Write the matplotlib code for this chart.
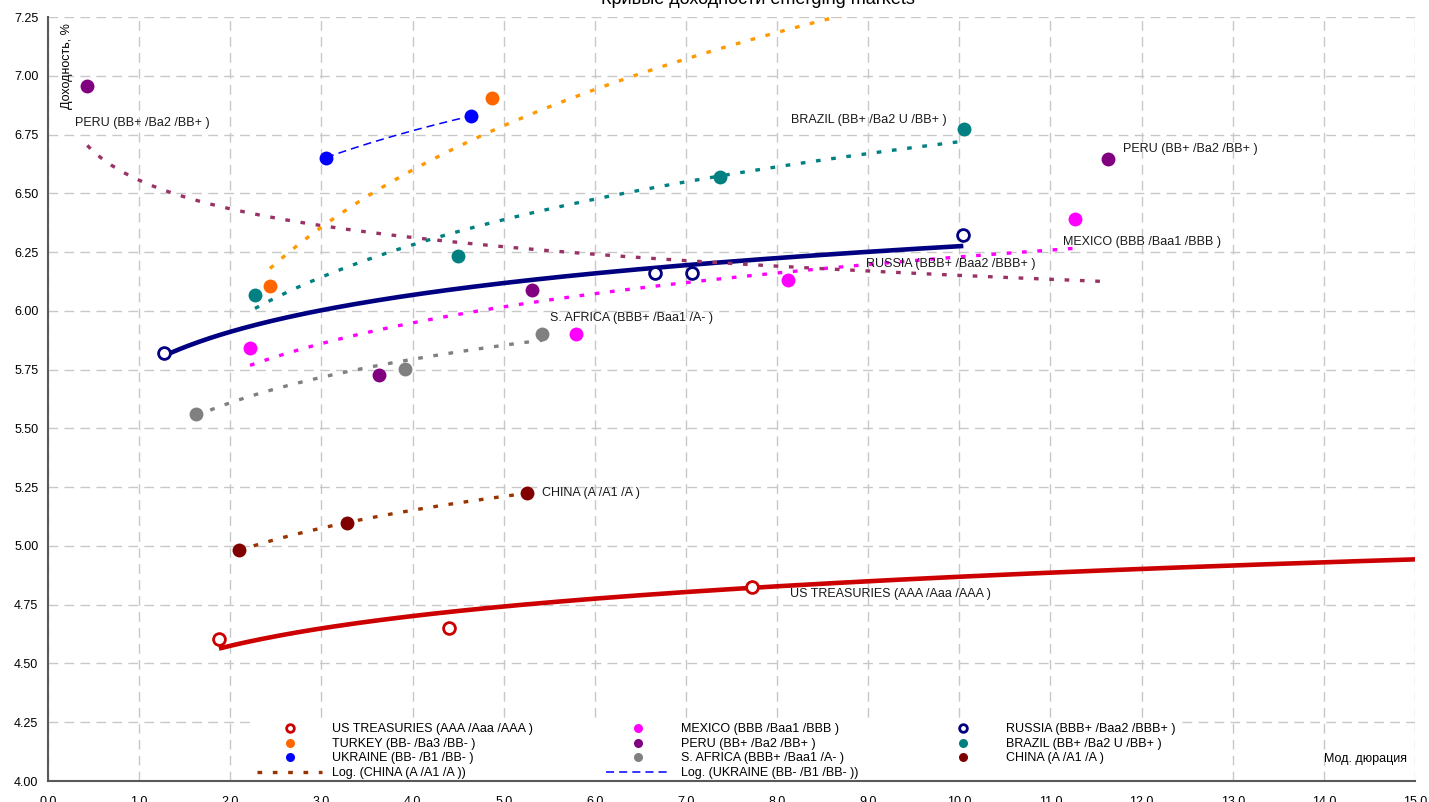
import numpy as np
import matplotlib.pyplot as plt

plt.rcParams['font.family'] = ['Liberation Sans', 'DejaVu Sans']
plt.rcParams['font.size'] = 9

# modified duration (x) / yield, % (y) for each curve
us_x = [1.876, 4.40, 7.725, 17.0]
us_y = [4.604, 4.651, 4.825, 4.99]
turkey_x = [2.436, 4.875, 10.3]
turkey_y = [6.107, 6.907, 7.33]
ukraine_x = [3.051, 4.642]
ukraine_y = [6.652, 6.829]
mexico_x = [2.217, 5.794, 8.117, 11.27]
mexico_y = [5.841, 5.901, 6.131, 6.389]
peru_x = [0.431, 3.632, 5.315, 11.635]
peru_y = [6.958, 5.727, 6.087, 6.647]
safrica_x = [1.624, 3.914, 5.424]
safrica_y = [5.563, 5.753, 5.901]
russia_x = [1.273, 6.661, 7.067, 10.044]
russia_y = [5.819, 6.161, 6.161, 6.323]
brazil_x = [2.271, 4.496, 7.374, 10.052]
brazil_y = [6.067, 6.233, 6.571, 6.772]
china_x = [2.096, 3.285, 5.26]
china_y = [4.983, 5.096, 5.226]

us_name = "US TREASURIES (AAA /Aaa /AAA )"
turkey_name = "TURKEY (BB- /Ba3 /BB- )"
ukraine_name = "UKRAINE (BB- /B1 /BB- )"
mexico_name = "MEXICO (BBB /Baa1 /BBB )"
peru_name = "PERU (BB+ /Ba2 /BB+ )"
safrica_name = "S. AFRICA (BBB+ /Baa1 /A- )"
russia_name = "RUSSIA (BBB+ /Baa2 /BBB+ )"
brazil_name = "BRAZIL (BB+ /Ba2 U /BB+ )"
china_name = "CHINA (A /A1 /A )"

x_ticks = list(range(0, 16))
y_ticks = [4.00, 4.25, 4.50, 4.75, 5.00, 5.25, 5.50, 5.75, 6.00, 6.25, 6.50, 6.75, 7.00, 7.25]


def log_trend(x, y):
    # excel-style logarithmic trendline y = a + b*ln(x)
    x = np.asarray(x)
    b, a = np.polyfit(np.log(x), np.asarray(y), 1)
    xs = np.linspace(x.min(), x.max(), 300)
    return xs, a + b * np.log(xs)


fig = plt.figure(figsize=(14.29, 8.02), dpi=100)
ax = fig.add_axes([48 / 1429, 21 / 802, 1367 / 1429, 764 / 802])

dots = (0, (1.4, 3.2))

# trendlines
ax.plot(*log_trend(us_x, us_y), color='#CC0000', lw=3.3, zorder=2, solid_capstyle='butt')
ax.plot(*log_trend(russia_x, russia_y), color='#000080', lw=3.3, zorder=2, solid_capstyle='butt')
ax.plot(*log_trend(mexico_x, mexico_y), color='#FF00FF', lw=2.4, ls=dots, zorder=2)
ax.plot(*log_trend(peru_x, peru_y), color='#993366', lw=2.4, ls=dots, zorder=2)
ax.plot(*log_trend(brazil_x, brazil_y), color='#008080', lw=2.4, ls=dots, zorder=2)
ax.plot(*log_trend(turkey_x, turkey_y), color='#FF9900', lw=2.4, ls=dots, zorder=2)
ax.plot(*log_trend(safrica_x, safrica_y), color='#808080', lw=2.4, ls=dots, zorder=2)
ch_trend, = ax.plot(*log_trend(china_x, china_y), color='#993300', lw=2.4, ls=dots, zorder=2,
                    label='Log. (' + china_name + ')')
ua_trend, = ax.plot(*log_trend(ukraine_x, ukraine_y), color='#0000FF', lw=1.1, ls=(0, (5.3, 3.3)),
                    zorder=2, label='Log. (' + ukraine_name + ')')

# points
us_pts, = ax.plot(us_x, us_y, 'o', ms=8.5, mfc='white', mec='#CC0000', mew=2, zorder=3, label=us_name)
ru_pts, = ax.plot(russia_x, russia_y, 'o', ms=8.5, mfc='white', mec='#000080', mew=2, zorder=3, label=russia_name)
tr_pts, = ax.plot(turkey_x, turkey_y, 'o', ms=10, color='#FF6600', mec='none', zorder=3, label=turkey_name)
ua_pts, = ax.plot(ukraine_x, ukraine_y, 'o', ms=10, color='#0000FF', mec='none', zorder=3, label=ukraine_name)
mx_pts, = ax.plot(mexico_x, mexico_y, 'o', ms=10, color='#FF00FF', mec='none', zorder=3, label=mexico_name)
pe_pts, = ax.plot(peru_x, peru_y, 'o', ms=10, color='#800080', mec='none', zorder=3, label=peru_name)
sa_pts, = ax.plot(safrica_x, safrica_y, 'o', ms=10, color='#808080', mec='none', zorder=3, label=safrica_name)
br_pts, = ax.plot(brazil_x, brazil_y, 'o', ms=10, color='#008080', mec='none', zorder=3, label=brazil_name)
ch_pts, = ax.plot(china_x, china_y, 'o', ms=10, color='#800000', mec='none', zorder=3, label=china_name)

# point labels
def tag(x, y, text, dx, dy, ha='left'):
    ax.annotate(text, (x, y), xytext=(dx * 0.72, dy * 0.72), textcoords='offset points',
                ha=ha, va='center', fontsize=9, color='#1a1a1a', zorder=4)

tag(peru_x[0], peru_y[0], peru_name, -12, -37)
tag(peru_x[-1], peru_y[-1], peru_name, 15, 10)
tag(brazil_x[-1], brazil_y[-1], brazil_name, -17, 9, ha='right')
tag(mexico_x[-1], mexico_y[-1], mexico_name, -12, -23)
tag(russia_x[-1], russia_y[-1], russia_name, -97, -29)
tag(safrica_x[-1], safrica_y[-1], safrica_name, 8, 16)
tag(china_x[-1], china_y[-1], china_name, 15, 0)
tag(us_x[2], us_y[2], us_name, 38, -7)

ax.set_xlim(0, 15)
ax.set_ylim(4.0, 7.25)
ax.set_xticks(x_ticks)
ax.set_xticklabels([f"{v:.1f}" for v in x_ticks])
ax.set_yticks(y_ticks)
ax.set_yticklabels([f"{v:.2f}" for v in y_ticks])
ax.tick_params(axis='x', length=0, pad=11, labelsize=9)
ax.tick_params(axis='y', length=0, pad=7, labelsize=9)
ax.grid(True, color='#C8C8C8', lw=1, ls=(0, (7, 4.5)))
ax.set_axisbelow(True)
for s in ['top', 'right']:
    ax.spines[s].set_visible(False)
for s in ['left', 'bottom']:
    ax.spines[s].set_color('#595959')
    ax.spines[s].set_linewidth(1.5)

handles = [us_pts, tr_pts, ua_pts, ch_trend, mx_pts, pe_pts, sa_pts, ua_trend, ru_pts, br_pts, ch_pts]
leg = ax.legend(handles=handles, ncol=3, loc='upper left',
                bbox_to_anchor=((246 - 48) / 1367, (781 - 712) / 764),
                frameon=True, facecolor='white', edgecolor='none', framealpha=1,
                borderpad=0.4, handlelength=5.2, handletextpad=0.8, columnspacing=5.8,
                labelspacing=0.21, markerscale=0.65, numpoints=1, fontsize=9)
# keep the bottom spine drawn over the legend box
leg.set_zorder(2.2)

ax.text((67 - 48) / 1367, (781 - 23) / 764, 'Доходность, %', rotation=90, ha='center', va='top',
        transform=ax.transAxes, fontsize=9)
ax.text((1407 - 48) / 1367, (781 - 759) / 764, 'Мод. дюрация', ha='right', va='center',
        transform=ax.transAxes, fontsize=9)
fig.text(758 / 1429, 1 - 4 / 802, 'Кривые доходности emerging markets', ha='center', va='baseline',
         fontsize=13)

fig.savefig('out.png', dpi=100)
